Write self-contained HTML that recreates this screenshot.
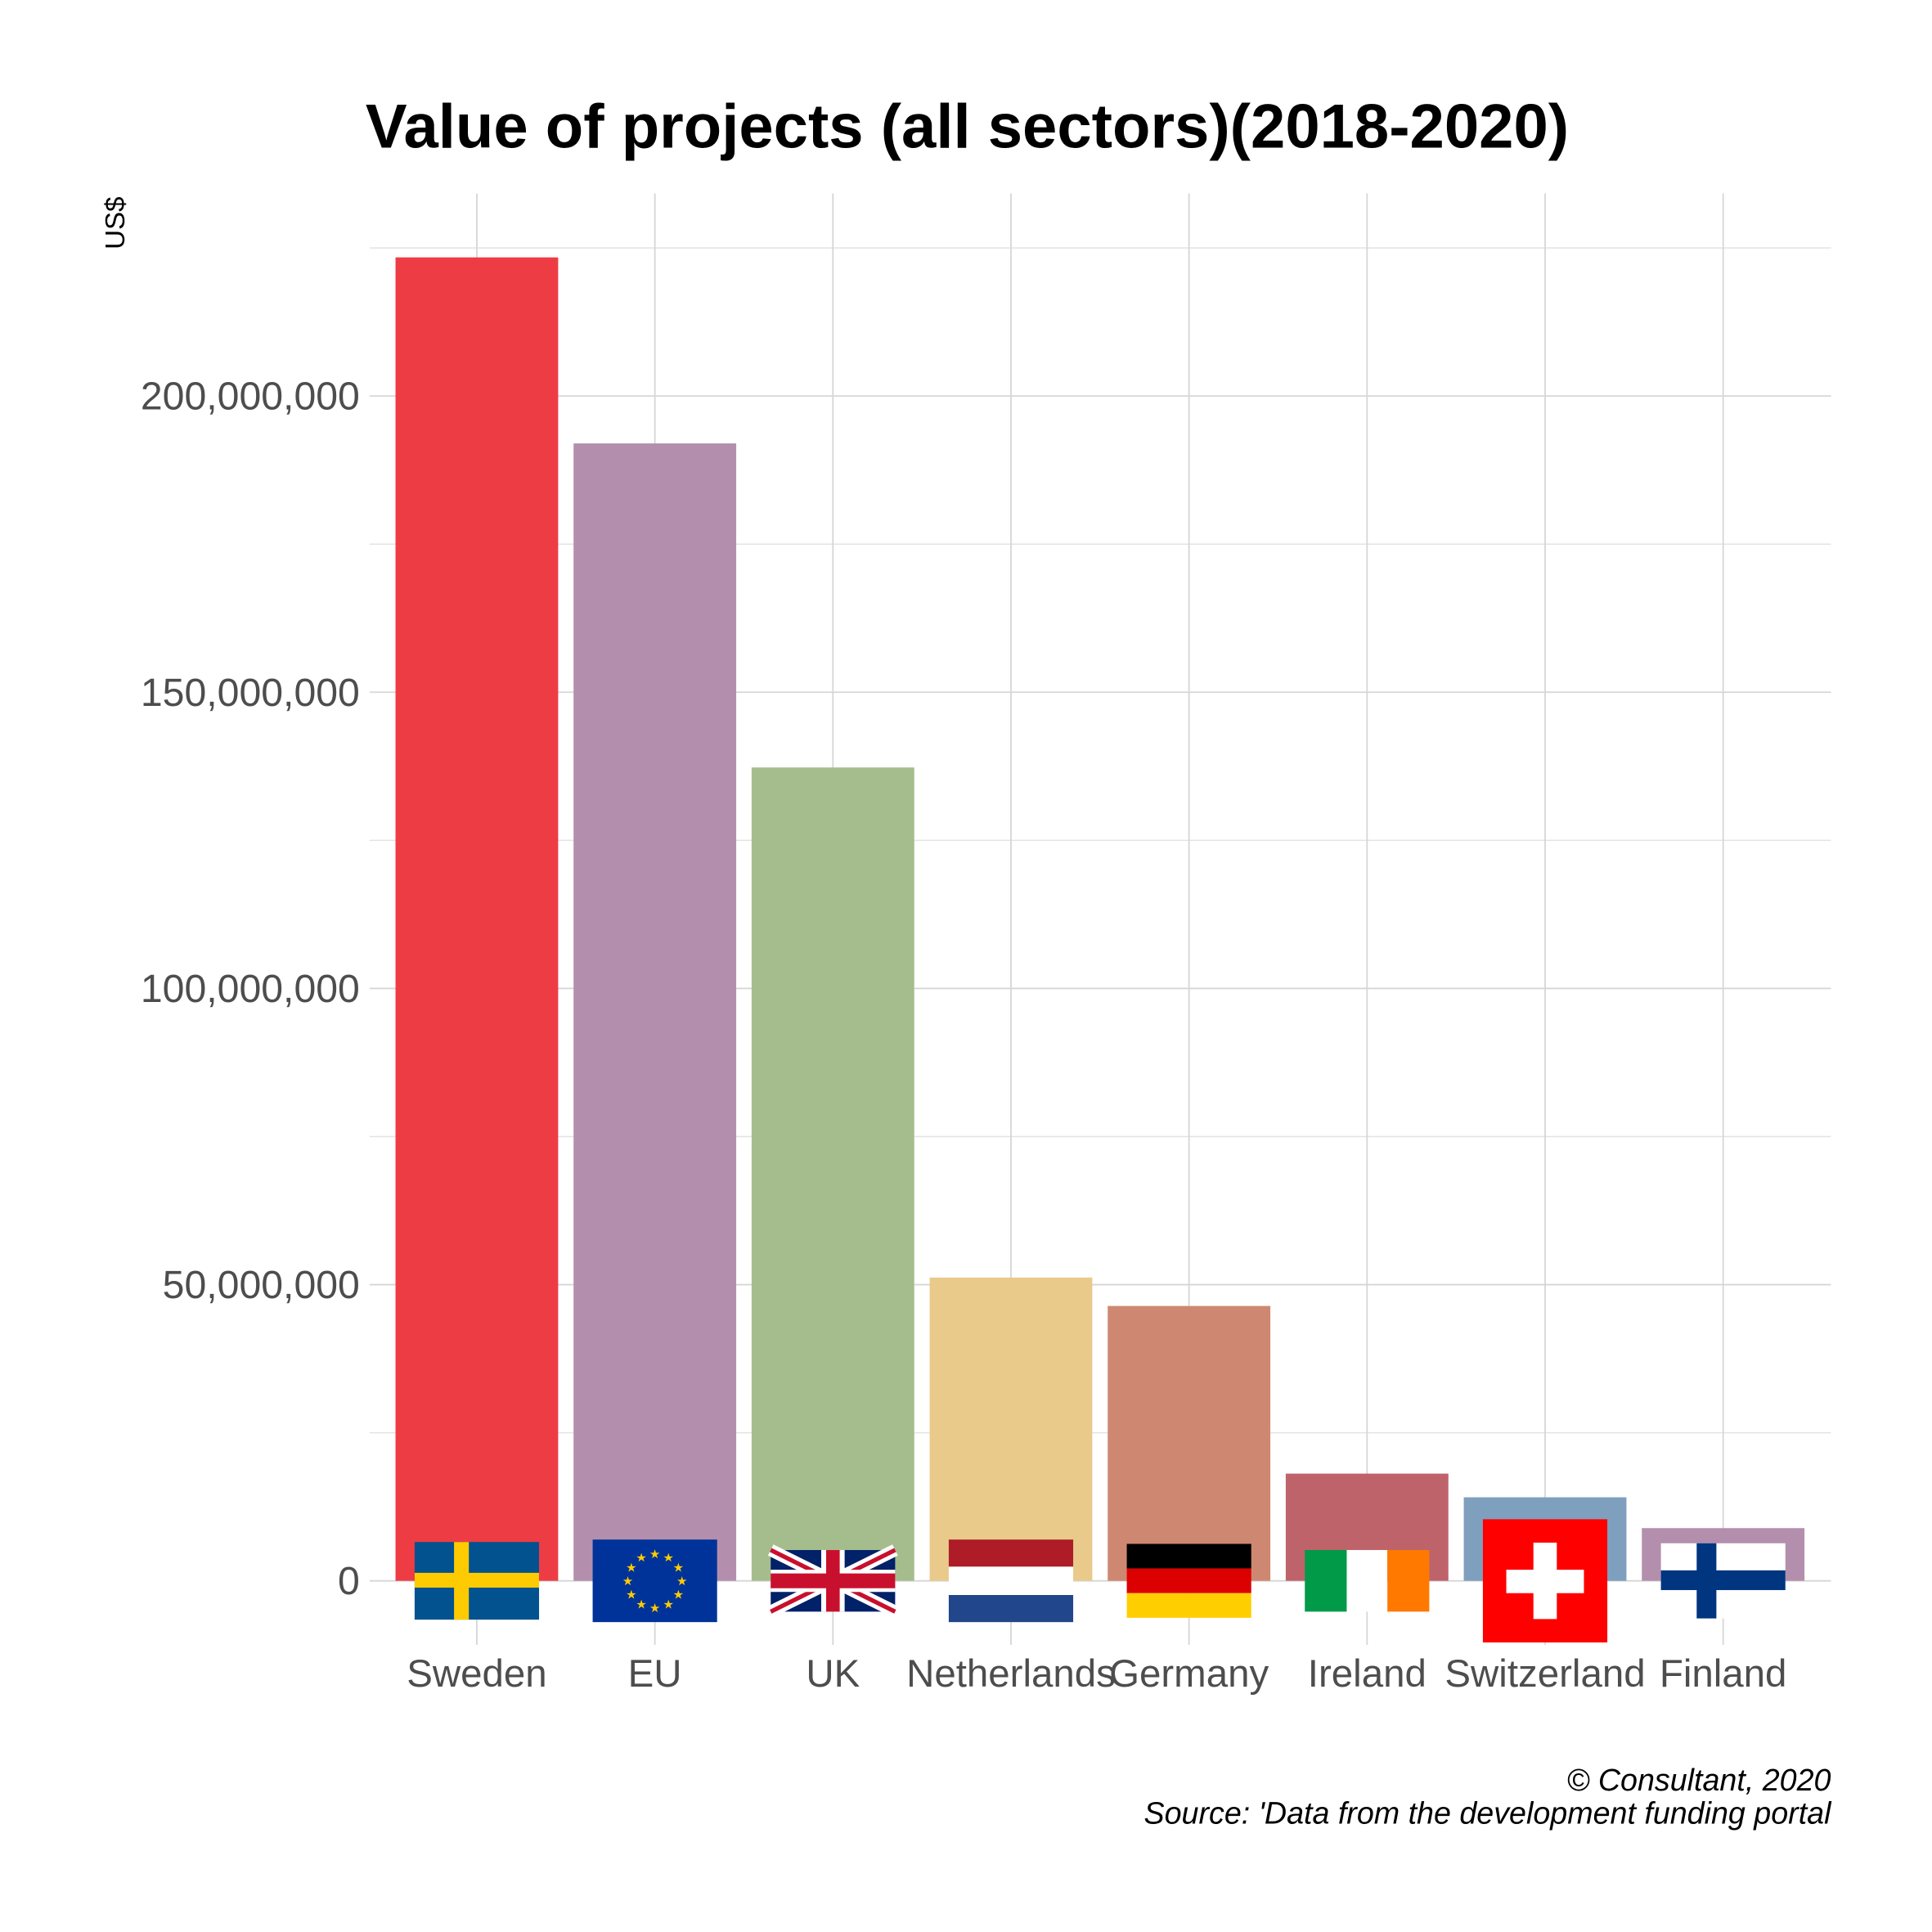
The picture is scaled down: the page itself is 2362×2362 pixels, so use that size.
<!DOCTYPE html>
<html><head><meta charset="utf-8"><style>
html,body{margin:0;padding:0;background:#fff}
svg{display:block}
text{font-family:"Liberation Sans",Arial,sans-serif}
</style></head><body>
<svg id="chart" width="2362" height="2362" viewBox="0 0 1568 1568" xmlns="http://www.w3.org/2000/svg">
<rect width="1568" height="1568" fill="#fff"/>
<text x="785" y="120" text-anchor="middle" font-size="50.5" font-weight="bold" fill="#000">Value of projects (all sectors)(2018-2020)</text>
<text transform="translate(101,181) rotate(-90)" text-anchor="middle" font-size="22" fill="#000">US$</text>
<g id="grid"></g>
<g id="bars"></g>
<g id="flags"></g>
<g id="labels"></g>
<text x="1486" y="1453" text-anchor="end" font-size="25" font-style="italic" fill="#000">© Consultant, 2020</text>
<text x="1486" y="1480" text-anchor="end" font-size="25" font-style="italic" fill="#000">Source: 'Data from the development funding portal</text>
</svg>
<script>
const categories = ["Sweden","EU","UK","Netherlands","Germany","Ireland","Switzerland","Finland"];
const values = [223400000,192000000,137300000,51200000,46400000,18100000,14100000,8900000];
const colors = ["#ee3c44","#b38fad","#a5bd8d","#e9ca8b","#ce8871","#bf636b","#7f9fbf","#b38fad"];
const yTicks = [0,50000000,100000000,150000000,200000000];
const yTickLabels = ["0","50,000,000","100,000,000","150,000,000","200,000,000"];
const yMinor = [25000000,75000000,125000000,175000000,225000000];

const NS="http://www.w3.org/2000/svg";
const px0=300, px1=1486, pyTop=157, y0px=1283, pxPer50M=240.4;
function y(v){return y0px - v/50000000*pxPer50M;}
function x(i){return 387 + i*144.5;}
const bw=132;
function mk(tag,attrs,parent){const e=document.createElementNS(NS,tag);for(const k in attrs)e.setAttribute(k,attrs[k]);parent.appendChild(e);return e;}
const grid=document.getElementById('grid'), bars=document.getElementById('bars'), flags=document.getElementById('flags'), labels=document.getElementById('labels');

yMinor.forEach(v=>{const l=mk('line',{x1:px0,x2:px1,y1:y(v),y2:y(v),stroke:'#e3e3e3','stroke-width':1},grid);

});
yTicks.forEach((v,i)=>{const l=mk('line',{x1:px0,x2:px1,y1:y(v),y2:y(v),stroke:'#d6d6d6','stroke-width':1.2},grid);


const t=mk('text',{x:292,y:y(v)+11,'text-anchor':'end','font-size':32,fill:'#4d4d4d'},labels);
t.textContent=yTickLabels[i];

});
categories.forEach((c,i)=>{const l=mk('line',{x1:x(i),x2:x(i),y1:pyTop,y2:1335,stroke:'#d6d6d6','stroke-width':1.2},grid);


const r=mk('rect',{x:x(i)-bw/2,y:y(values[i]),width:bw,height:y0px-y(values[i]),fill:colors[i]},bars);


const t=mk('text',{x:x(i),y:1369,'text-anchor':'middle','font-size':31.5,fill:'#4d4d4d'},labels);
t.textContent=c;

});

function flag(i,h,draw){const g=mk('g',{transform:'translate('+(x(i)-50.5)+','+(y0px-h/2)+')'},flags);


draw(g,101,h);}
flag(0,63,(g,w,h)=>{mk('rect',{width:w,height:h,fill:'#02528f'},g);mk('rect',{x:32,width:12,height:h,fill:'#fecb00'},g);mk('rect',{y:25,width:w,height:12,fill:'#fecb00'},g);});
flag(1,67,(g,w,h)=>{mk('rect',{width:w,height:h,fill:'#003399'},g);for(let k=0;k<12;k++){const a=k*Math.PI/6;const t=mk('text',{x:50.5+22*Math.sin(a),y:33.5-22*Math.cos(a)+3.5,'text-anchor':'middle','font-size':10,fill:'#ffcc00'},g);t.textContent='★';}});
flag(2,50,(g,w,h)=>{mk('rect',{width:w,height:h,fill:'#012169'},g);
mk('path',{d:'M0,0L101,50M101,0L0,50',stroke:'#fff','stroke-width':10},g);
mk('path',{d:'M0,0L101,50M101,0L0,50',stroke:'#c8102e','stroke-width':3.5},g);
mk('rect',{x:41,width:19,height:h,fill:'#fff'},g);mk('rect',{y:16,width:w,height:18,fill:'#fff'},g);
mk('rect',{x:45,width:11,height:h,fill:'#c8102e'},g);mk('rect',{y:19,width:w,height:12,fill:'#c8102e'},g);});
flag(3,67,(g,w,h)=>{mk('rect',{width:w,height:22,fill:'#ae1c28'},g);mk('rect',{y:22,width:w,height:23,fill:'#fff'},g);mk('rect',{y:45,width:w,height:22,fill:'#21468b'},g);});
flag(4,60,(g,w,h)=>{mk('rect',{width:w,height:20,fill:'#000'},g);mk('rect',{y:20,width:w,height:20,fill:'#dd0000'},g);mk('rect',{y:40,width:w,height:20,fill:'#ffce00'},g);});
flag(5,50,(g,w,h)=>{mk('rect',{width:34,height:h,fill:'#009a49'},g);mk('rect',{x:34,width:33,height:h,fill:'#fff'},g);mk('rect',{x:67,width:34,height:h,fill:'#ff7900'},g);});
flag(6,100,(g,w,h)=>{mk('rect',{width:w,height:h,fill:'#ff0000'},g);mk('rect',{x:41,y:19,width:19,height:62,fill:'#fff'},g);mk('rect',{x:19,y:41,width:63,height:19,fill:'#fff'},g);});
flag(7,61,(g,w,h)=>{mk('rect',{width:w,height:h,fill:'#fff'},g);mk('rect',{x:29,width:16,height:h,fill:'#003580'},g);mk('rect',{y:22,width:w,height:16,fill:'#003580'},g);});
</script>
</body></html>
